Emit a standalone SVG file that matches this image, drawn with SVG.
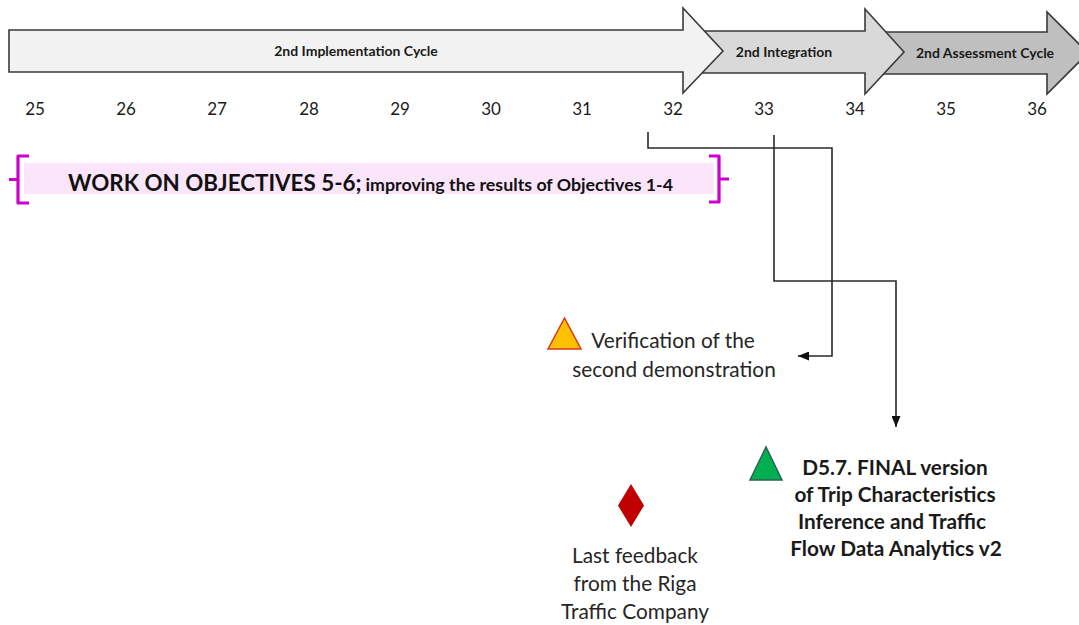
<svg xmlns="http://www.w3.org/2000/svg" width="1079" height="625" viewBox="0 0 1079 625">
  <defs>
    <marker id="tip" markerUnits="userSpaceOnUse" markerWidth="11" markerHeight="9" refX="11" refY="4.5" orient="auto">
      <path d="M0,0 L11,4.5 L0,9 z" fill="#111"/>
    </marker>
    <style>
      .phase { stroke: #3a3a3a; stroke-width: 1.6; stroke-linejoin: miter; }
      .phase-label { font-family: Lato, "Liberation Sans", sans-serif; font-weight: bold; font-size: 14px; fill: #1a1a1a; text-anchor: middle; }
      .month { font-family: Lato, "Liberation Sans", sans-serif; font-size: 17px; fill: #1a1a1a; text-anchor: middle; }
      .brace { fill: none; stroke: #cc00cc; stroke-width: 3.2; stroke-linecap: butt; stroke-linejoin: round; }
      .caption { font-family: Lato, "Liberation Sans", sans-serif; font-size: 20.8px; fill: #262626; text-anchor: middle; }
      .caption-bold { font-family: Lato, "Liberation Sans", sans-serif; font-size: 20.8px; font-weight: bold; fill: #1a1a1a; text-anchor: middle; }
      .link { fill: none; stroke: #2a2a2a; stroke-width: 1.6; }
    </style>
  </defs>

  <rect width="1079" height="625" fill="#ffffff"/>

  <!-- timeline phases, drawn back to front -->
  <g id="phase-assessment">
    <polygon class="phase" fill="#bfbfbf" points="880,32 1047,32 1047,12 1088,53 1047,94 1047,74 880,74"/>
    <text class="phase-label" x="985" y="58">2nd Assessment Cycle</text>
  </g>
  <g id="phase-integration">
    <polygon class="phase" fill="#d9d9d9" points="700,31 865,31 865,9 904,52 865,94 865,73 700,73"/>
    <text class="phase-label" x="784" y="57">2nd Integration</text>
  </g>
  <g id="phase-implementation">
    <polygon class="phase" fill="#f2f2f2" points="9,30 683,30 683,8 723,51 683,93 683,72 9,72"/>
    <text class="phase-label" x="356" y="56">2nd Implementation Cycle</text>
  </g>

  <!-- month numbers -->
  <g id="months">
    <text class="month" x="35" y="115">25</text>
    <text class="month" x="126" y="115">26</text>
    <text class="month" x="217" y="115">27</text>
    <text class="month" x="309" y="115">28</text>
    <text class="month" x="400" y="115">29</text>
    <text class="month" x="491" y="115">30</text>
    <text class="month" x="582" y="115">31</text>
    <text class="month" x="673" y="115">32</text>
    <text class="month" x="764" y="115">33</text>
    <text class="month" x="855" y="115">34</text>
    <text class="month" x="946" y="115">35</text>
    <text class="month" x="1037" y="115">36</text>
  </g>

  <!-- work period band -->
  <g id="work-band">
    <rect x="24" y="163" width="690" height="31" fill="#fbe5fb"/>
    <path class="brace" d="M29,156 H18 V203 H29 M18,179.5 H9"/>
    <path class="brace" d="M709,156 H719 V202 H709 M719,179 H729"/>
    <text x="68" y="191" font-family="Lato, 'Liberation Sans', sans-serif" font-weight="bold" fill="#111"><tspan font-size="22.4px">WORK ON OBJECTIVES 5-6;</tspan><tspan font-size="17.8px" dx="4">improving the results of Objectives 1-4</tspan></text>
  </g>

  <!-- connectors -->
  <g id="connectors">
    <path class="link" d="M648,132 V148 H832 V356 H798" marker-end="url(#tip)"/>
    <path class="link" d="M774,135 V281 H896 V427" marker-end="url(#tip)"/>
  </g>

  <!-- milestones -->
  <g id="verification">
    <polygon points="548,349 581,349 564.5,318" fill="#ffc000" stroke="#d9361e" stroke-width="1.5"/>
    <text class="caption" x="673" y="348">Verification of the</text>
    <text class="caption" x="674" y="377">second demonstration</text>
  </g>

  <g id="deliverable-d57">
    <polygon points="750,480 782,480 766,447" fill="#00b050" stroke="#2c5f58" stroke-width="1.5"/>
    <text class="caption-bold" x="895" y="475">D5.7. FINAL version</text>
    <text class="caption-bold" x="895" y="502">of Trip Characteristics</text>
    <text class="caption-bold" x="892" y="529">Inference and Traffic</text>
    <text class="caption-bold" x="896" y="556">Flow Data Analytics v2</text>
  </g>

  <g id="feedback">
    <polygon points="631,484 644,505.5 631,527 618,505.5" fill="#c00000"/>
    <text class="caption" x="635" y="563">Last feedback</text>
    <text class="caption" x="635" y="591">from the Riga</text>
    <text class="caption" x="635" y="619">Traffic Company</text>
  </g>
</svg>
